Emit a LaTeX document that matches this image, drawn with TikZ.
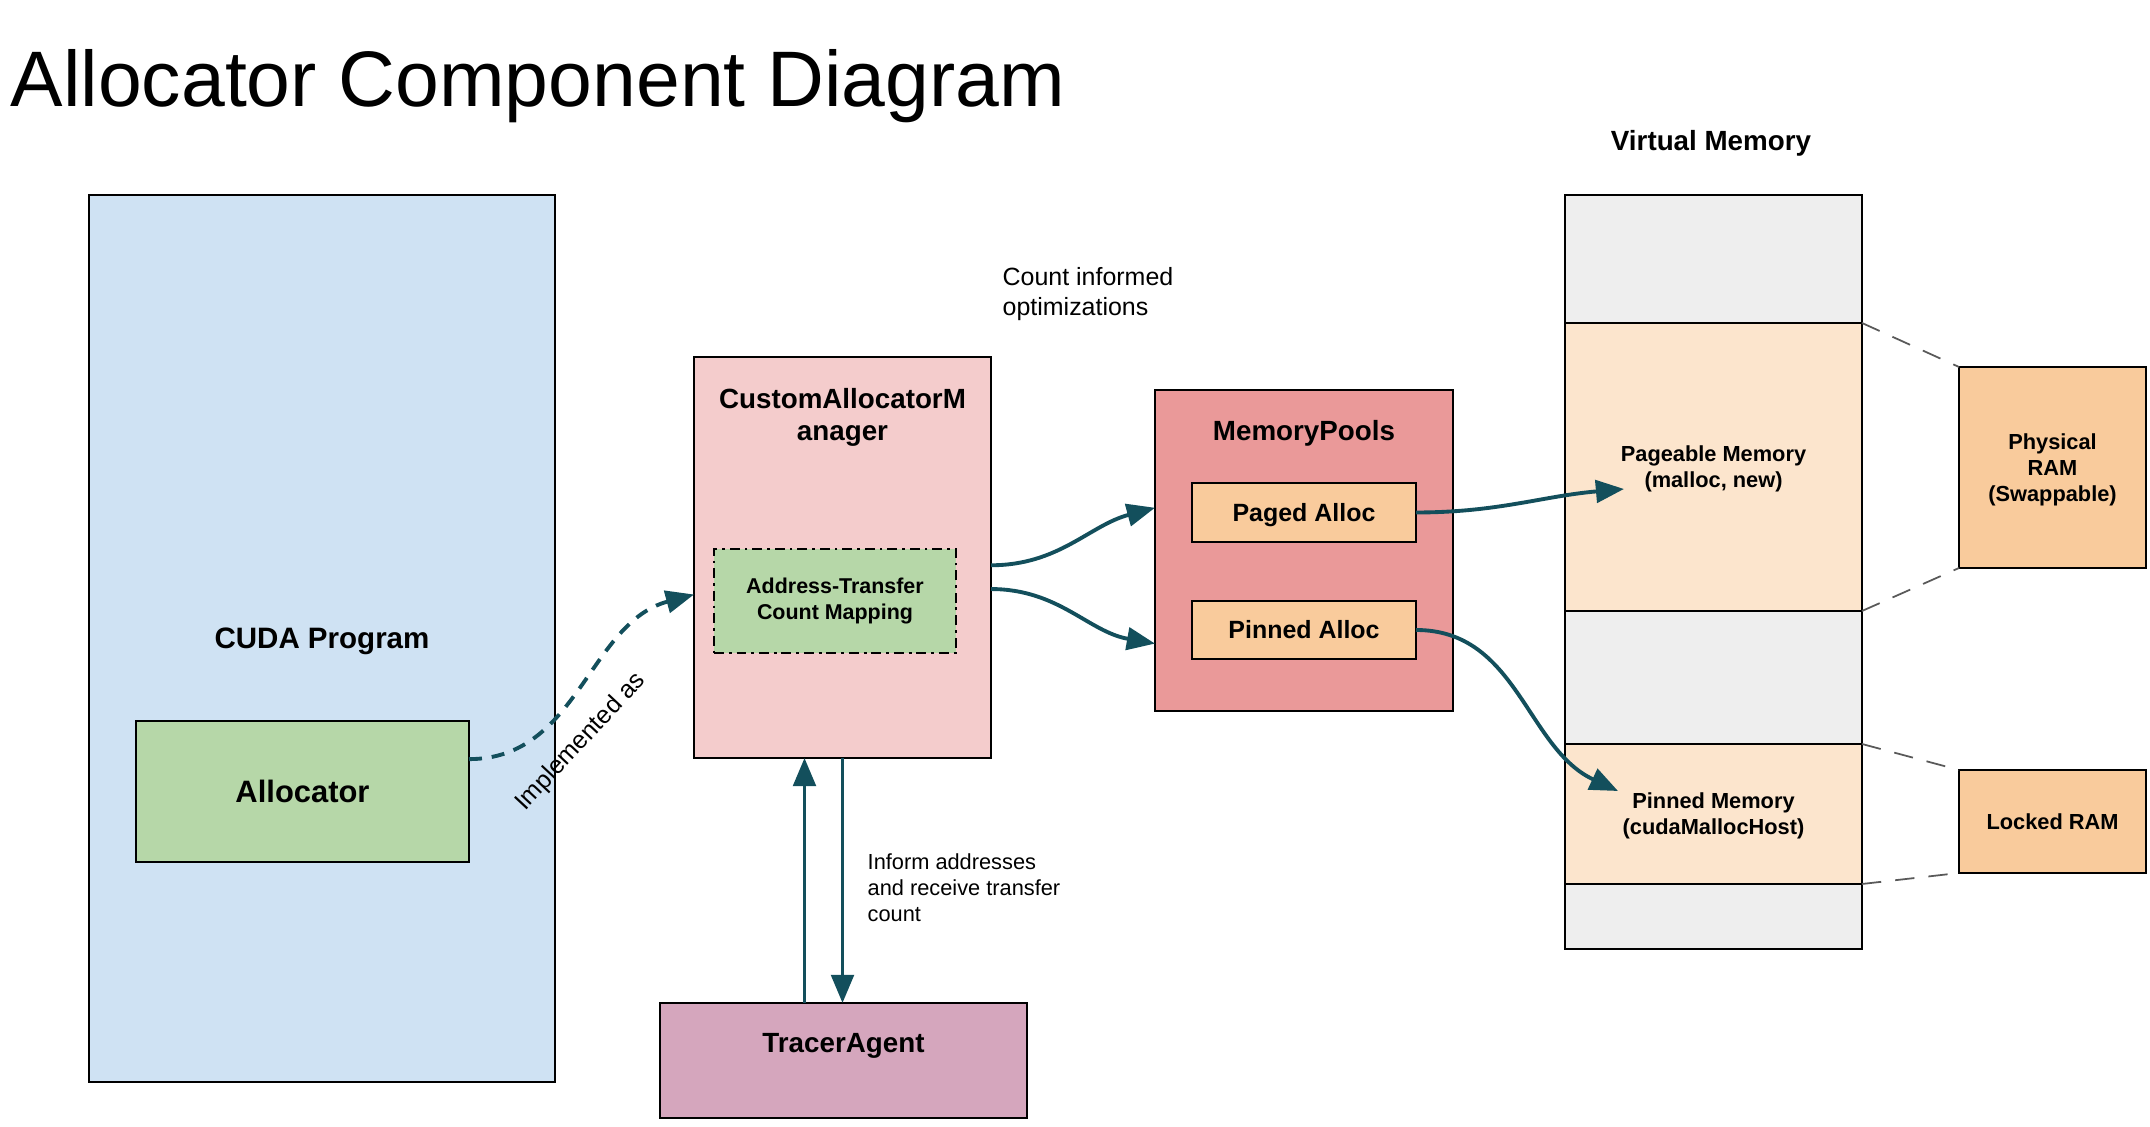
\documentclass[tikz,border=0pt]{standalone}
\usepackage{fontspec}
\setmainfont{Liberation Sans}
\definecolor{cudablue}{HTML}{CFE2F3}
\definecolor{allocgreen}{HTML}{B6D7A8}
\definecolor{mgrpink}{HTML}{F4CCCC}
\definecolor{poolred}{HTML}{EA9999}
\definecolor{allocorange}{HTML}{F9CB9C}
\definecolor{tracermauve}{HTML}{D5A6BD}
\definecolor{vmpeach}{HTML}{FCE5CD}
\definecolor{vmgray}{HTML}{EEEEEE}
\definecolor{flowteal}{HTML}{134F5C}
\definecolor{mapgray}{HTML}{595959}
\usetikzlibrary{arrows.meta, positioning}

\begin{document}
\begin{tikzpicture}[
  box/.style={draw, line width=0.6pt, inner sep=0pt, outer sep=0pt, align=center},
  flow/.style={draw=flowteal, line width=1.1pt, -{Triangle[length=8pt, width=6.4pt]}},
  mapline/.style={draw=mapgray, line width=0.5pt, dash pattern=on 5.5pt off 4pt},
  vmseg/.style={box, minimum width=2.97cm, text depth=0pt, font=\fontsize{6.2}{7.4}\selectfont\bfseries},
  hwbox/.style={box, fill=allocorange, minimum width=1.87cm, text depth=0pt, font=\fontsize{6.2}{7.4}\selectfont\bfseries},
  boxtitle/.style={inner sep=0pt, align=center, font=\fontsize{7.9}{9.1}\selectfont\bfseries},
  note/.style={inner sep=0pt, align=left, anchor=west},
]
  \useasboundingbox (0,0) rectangle (21.5,-11.27);

  % Title
  \node[anchor=base west, inner sep=0pt, font=\fontsize{22.4}{26}\selectfont] (title) at (0.10,-1.07) {Allocator Component Diagram};

  % CUDA side
  \node[box, fill=cudablue, minimum width=4.66cm, minimum height=8.87cm, text depth=0pt, font=\fontsize{8.4}{10}\selectfont\bfseries] (cuda) at (3.22,-6.385) {CUDA Program};
  \node[box, fill=allocgreen, minimum width=3.33cm, minimum height=1.41cm, font=\fontsize{8.8}{10}\selectfont\bfseries] (alloc) at (3.025,-7.915) {Allocator};

  % Manager
  \node[box, fill=mgrpink, minimum width=2.97cm, minimum height=4.01cm] (cam) at (8.425,-5.575) {};
  \node[boxtitle, below=0.31cm of cam.north] (camtitle) {CustomAllocatorM\\anager};
  \node[box, fill=allocgreen, minimum width=2.42cm, minimum height=1.04cm, line width=0.6pt,
    dash pattern=on 2.8pt off 1.4pt on 0.8pt off 1.4pt, font=\fontsize{6.1}{7.4}\selectfont\bfseries] (addr) at (8.35,-6.01) {Address-Transfer\\Count Mapping};

  % Pools
  \node[box, fill=poolred, minimum width=2.98cm, minimum height=3.21cm] (pools) at (13.04,-5.505) {};
  \node[boxtitle, below=0.30cm of pools.north] (poolstitle) {MemoryPools};
  \node[box, fill=allocorange, minimum width=2.24cm, minimum height=0.59cm, text depth=0pt, font=\fontsize{7.1}{8.5}\selectfont\bfseries] (paged) at (13.04,-5.125) {Paged Alloc};
  \node[box, fill=allocorange, minimum width=2.24cm, minimum height=0.58cm, font=\fontsize{7.1}{8.5}\selectfont\bfseries] (pinned) at (13.04,-6.30) {Pinned Alloc};

  % Tracer
  \node[box, fill=tracermauve, minimum width=3.67cm, minimum height=1.15cm] (tracer) at (8.435,-10.605) {};
  \node[boxtitle, below=0.30cm of tracer.north] (tracertitle) {TracerAgent};

  % Virtual memory column
  \node[boxtitle] (vmlabel) at (17.11,-1.43) {Virtual Memory};
  \node[vmseg, fill=vmgray, minimum height=1.28cm] (vtop) at (17.135,-2.59) {};
  \node[vmseg, fill=vmpeach, minimum height=2.88cm, below=0pt of vtop] (pageable) {Pageable Memory\\(malloc, new)};
  \node[vmseg, fill=vmgray, minimum height=1.33cm, below=0pt of pageable] (vmid) {};
  \node[vmseg, fill=vmpeach, minimum height=1.40cm, below=0pt of vmid] (pinnedmem) {Pinned Memory\\(cudaMallocHost)};
  \node[vmseg, fill=vmgray, minimum height=0.65cm, below=0pt of pinnedmem] (vbot) {};

  % Physical memory
  \node[hwbox, minimum height=2.01cm] (phys) at (20.525,-4.675) {Physical\\RAM\\(Swappable)};
  \node[hwbox, minimum height=1.03cm] (locked) at (20.525,-8.215) {Locked RAM};

  \draw[mapline] (pageable.north east) -- (phys.north west);
  \draw[mapline] (pageable.south east) -- (phys.south west);
  \draw[mapline] (pinnedmem.north east) -- (locked.north west);
  \draw[mapline] (pinnedmem.south east) -- (locked.south west);

  % Connectors
  \draw[flow, dash pattern=on 3.7pt off 2.8pt] (alloc.11) to[out=0, in=195] (cam.194);
  \node[rotate=47, inner sep=0pt, font=\fontsize{7.1}{8.5}\selectfont] (implabel) at (5.81,-7.42) {Implemented as};

  \draw[flow] (cam.-3) to[out=0, in=195] (pools.164);
  \draw[flow] (cam.-12) to[out=0, in=170] (pools.212);

  \coordinate (pagedin) at (16.24,-4.89);
  \coordinate (pinnedin) at (16.18,-7.91);
  \draw[flow] (paged.east) to[out=0, in=185] (pagedin);
  \draw[flow] (pinned.east) to[out=0, in=155] (pinnedin);

  \draw[flow] ([xshift=-0.39cm]tracer.north) -- ([xshift=-0.39cm]tracer.north |- cam.south);
  \draw[flow] (cam.south) -- (cam.south |- tracer.north);

  \node[note, font=\fontsize{7.1}{8.5}\selectfont] (countlabel) at (10.02,-2.94) {Count informed\\optimizations};
  \node[note, font=\fontsize{6.2}{7.4}\selectfont] (informlabel) at (8.67,-8.88) {Inform addresses\\and receive transfer\\count};
\end{tikzpicture}
\end{document}
